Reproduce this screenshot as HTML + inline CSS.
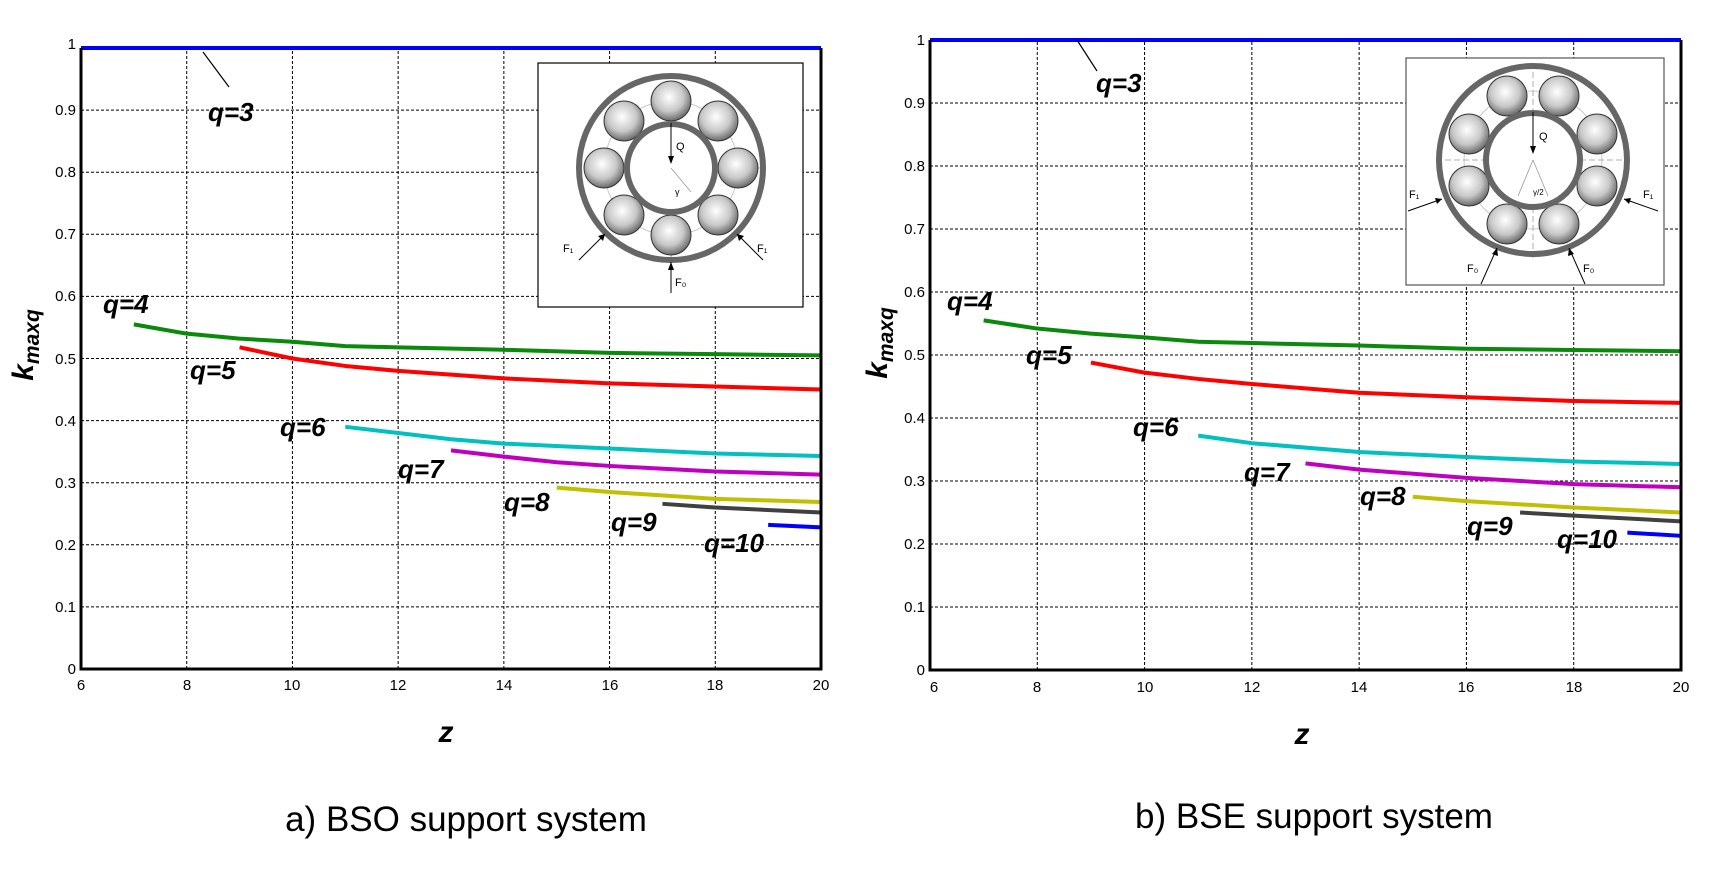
<!DOCTYPE html>
<html><head><meta charset="utf-8"><style>
html,body{margin:0;padding:0;background:#fff}
svg{display:block}
.t{font-family:"Liberation Sans",Arial,sans-serif;font-size:15px;fill:#000}
.q{font-family:"Liberation Sans",Arial,sans-serif;font-size:26px;font-weight:bold;font-style:italic;fill:#000}
.cap{font-family:"Liberation Sans",Arial,sans-serif;font-size:35px;fill:#000}
.sm{font-family:"Liberation Sans",Arial,sans-serif;font-size:11px;fill:#000}
</style></head><body>
<svg width="1720" height="875" xmlns="http://www.w3.org/2000/svg">
<defs>
<radialGradient id="ball" cx="0.45" cy="0.4" r="0.6">
<stop offset="0" stop-color="#ffffff"/><stop offset="0.6" stop-color="#c8c8c8"/><stop offset="1" stop-color="#6a6a6a"/>
</radialGradient>
</defs>

<!-- ================= LEFT PLOT ================= -->
<svg x="81" y="48" width="740" height="621" viewBox="6 -1 14 1" preserveAspectRatio="none" overflow="visible">
<g fill="none" stroke="#000" stroke-width="1" stroke-dasharray="3,2">
<path vector-effect="non-scaling-stroke" d="M8 0V-1M10 0V-1M12 0V-1M14 0V-1M16 0V-1M18 0V-1M6 -0.1H20M6 -0.2H20M6 -0.3H20M6 -0.4H20M6 -0.5H20M6 -0.6H20M6 -0.7H20M6 -0.8H20M6 -0.9H20"/>
</g>
<g fill="none" stroke-width="4" stroke-linejoin="round">
<path vector-effect="non-scaling-stroke" stroke="#0a8a0a" d="M7 -0.555L8 -0.54L9 -0.532L10 -0.527L11 -0.52L12 -0.518L14 -0.514L16 -0.509L18 -0.507L20 -0.505"/>
<path vector-effect="non-scaling-stroke" stroke="#ff0000" d="M9 -0.518L10 -0.5L11 -0.488L12 -0.48L14 -0.468L16 -0.46L18 -0.455L20 -0.45"/>
<path vector-effect="non-scaling-stroke" stroke="#00c0c0" d="M11 -0.39L12 -0.38L13 -0.37L14 -0.363L16 -0.355L18 -0.347L20 -0.343"/>
<path vector-effect="non-scaling-stroke" stroke="#c000c0" d="M13 -0.352L14 -0.342L15 -0.333L16 -0.327L18 -0.318L20 -0.313"/>
<path vector-effect="non-scaling-stroke" stroke="#c0c000" d="M15 -0.292L16 -0.285L18 -0.274L20 -0.269"/>
<path vector-effect="non-scaling-stroke" stroke="#404040" d="M17 -0.266L18 -0.26L20 -0.252"/>
<path vector-effect="non-scaling-stroke" stroke="#0000ff" d="M19 -0.232L20 -0.228"/>
</g>
</svg>
<line x1="81" y1="48" x2="821" y2="48" stroke="#0000ff" stroke-width="4"/>
<path d="M81 48V669H821V48" fill="none" stroke="#000" stroke-width="3"/>
<line x1="203" y1="52" x2="229" y2="87" stroke="#000" stroke-width="1.2"/>
<g class="t" text-anchor="end">
<text x="76" y="674">0</text><text x="76" y="612">0.1</text><text x="76" y="550">0.2</text><text x="76" y="488">0.3</text><text x="76" y="426">0.4</text><text x="76" y="364">0.5</text><text x="76" y="301">0.6</text><text x="76" y="239">0.7</text><text x="76" y="177">0.8</text><text x="76" y="115">0.9</text><text x="76" y="49">1</text>
</g>
<g class="t" text-anchor="middle">
<text x="81" y="690">6</text><text x="187" y="690">8</text><text x="292" y="690">10</text><text x="398" y="690">12</text><text x="504" y="690">14</text><text x="610" y="690">16</text><text x="715" y="690">18</text><text x="821" y="690">20</text>
</g>
<g class="q">
<text x="208" y="121">q=3</text><text x="103" y="313">q=4</text><text x="190" y="379">q=5</text><text x="280" y="436">q=6</text><text x="398" y="478">q=7</text><text x="504" y="511">q=8</text><text x="611" y="531">q=9</text><text x="704" y="552">q=10</text>
</g>
<text class="q" x="446" y="742" text-anchor="middle" style="font-size:30px">z</text>
<text class="q" transform="translate(33,345) rotate(-90)" text-anchor="middle" style="font-size:30px">k<tspan style="font-size:21px" dy="6">maxq</tspan></text>
<text class="cap" x="466" y="831" text-anchor="middle">a) BSO support system</text>

<!-- left inset -->
<rect x="538" y="63" width="265" height="244" fill="#fff" stroke="#000" stroke-width="1.2"/>
<g transform="translate(671,168)">
<circle r="67" fill="none" stroke="#bbb" stroke-width="0.8"/>
<line x1="-95" y1="0" x2="95" y2="0" stroke="#999" stroke-dasharray="6,3" stroke-width="0.8"/>
<line x1="0" y1="-95" x2="0" y2="95" stroke="#999" stroke-dasharray="6,3" stroke-width="0.8"/>
<circle r="92" fill="none" stroke="#666" stroke-width="6"/>
<circle cx="0" cy="-67" r="20" fill="url(#ball)" stroke="#333"/><circle cx="47" cy="-47" r="20" fill="url(#ball)" stroke="#333"/><circle cx="67" cy="0" r="20" fill="url(#ball)" stroke="#333"/><circle cx="47" cy="47" r="20" fill="url(#ball)" stroke="#333"/><circle cx="0" cy="67" r="20" fill="url(#ball)" stroke="#333"/><circle cx="-47" cy="47" r="20" fill="url(#ball)" stroke="#333"/><circle cx="-67" cy="0" r="20" fill="url(#ball)" stroke="#333"/><circle cx="-47" cy="-47" r="20" fill="url(#ball)" stroke="#333"/>
<circle r="44" fill="#fff" stroke="#666" stroke-width="6"/>
<line x1="0" y1="-45" x2="0" y2="-10" stroke="#000"/><path d="M-3,-12 L3,-12 L0,-4Z" fill="#000"/>
<text class="sm" x="5" y="-18">Q</text>
<line x1="0" y1="0" x2="20" y2="24" stroke="#999" stroke-width="0.8"/>
<text class="sm" x="4" y="27" style="font-size:9px">γ</text>
<line x1="0" y1="94" x2="0" y2="125" stroke="#000"/><path d="M-3,102 L3,102 L0,94Z" fill="#000"/>
<text class="sm" x="4" y="118">F₀</text>
<line x1="-66" y1="66" x2="-92" y2="92" stroke="#000"/><path d="M-66,66 L-73,68 L-68,73Z" fill="#000"/>
<text class="sm" x="-108" y="84">F₁</text>
<line x1="66" y1="66" x2="92" y2="92" stroke="#000"/><path d="M66,66 L73,68 L68,73Z" fill="#000"/>
<text class="sm" x="86" y="84">F₁</text>
</g>

<!-- ================= RIGHT PLOT ================= -->
<svg x="930" y="40" width="751" height="630" viewBox="6 -1 14 1" preserveAspectRatio="none" overflow="visible">
<g fill="none" stroke="#000" stroke-width="1" stroke-dasharray="3,2">
<path vector-effect="non-scaling-stroke" d="M8 0V-1M10 0V-1M12 0V-1M14 0V-1M16 0V-1M18 0V-1M6 -0.1H20M6 -0.2H20M6 -0.3H20M6 -0.4H20M6 -0.5H20M6 -0.6H20M6 -0.7H20M6 -0.8H20M6 -0.9H20"/>
</g>
<g fill="none" stroke-width="4" stroke-linejoin="round">
<path vector-effect="non-scaling-stroke" stroke="#0a8a0a" d="M7 -0.555L8 -0.542L9 -0.534L10 -0.528L11 -0.521L12 -0.519L14 -0.515L16 -0.51L18 -0.508L20 -0.506"/>
<path vector-effect="non-scaling-stroke" stroke="#ff0000" d="M9 -0.488L10 -0.472L11 -0.462L12 -0.454L14 -0.44L16 -0.433L18 -0.427L20 -0.424"/>
<path vector-effect="non-scaling-stroke" stroke="#00c0c0" d="M11 -0.372L12 -0.36L14 -0.346L16 -0.338L18 -0.331L20 -0.327"/>
<path vector-effect="non-scaling-stroke" stroke="#c000c0" d="M13 -0.328L14 -0.318L16 -0.305L18 -0.295L20 -0.29"/>
<path vector-effect="non-scaling-stroke" stroke="#c0c000" d="M15 -0.275L16 -0.268L18 -0.258L20 -0.25"/>
<path vector-effect="non-scaling-stroke" stroke="#404040" d="M17 -0.25L18 -0.245L20 -0.236"/>
<path vector-effect="non-scaling-stroke" stroke="#0000ff" d="M19 -0.218L20 -0.213"/>
</g>
</svg>
<line x1="930" y1="40" x2="1681" y2="40" stroke="#0000ff" stroke-width="4"/>
<path d="M930 40V670H1681V40" fill="none" stroke="#000" stroke-width="3"/>
<line x1="1077" y1="40" x2="1097" y2="71" stroke="#000" stroke-width="1.2"/>
<g class="t" text-anchor="end">
<text x="925" y="675">0</text><text x="925" y="612">0.1</text><text x="925" y="549">0.2</text><text x="925" y="486">0.3</text><text x="925" y="423">0.4</text><text x="925" y="360">0.5</text><text x="925" y="297">0.6</text><text x="925" y="234">0.7</text><text x="925" y="171">0.8</text><text x="925" y="108">0.9</text><text x="925" y="45">1</text>
</g>
<g class="t" text-anchor="middle">
<text x="934" y="692">6</text><text x="1037" y="692">8</text><text x="1145" y="692">10</text><text x="1252" y="692">12</text><text x="1359" y="692">14</text><text x="1466" y="692">16</text><text x="1574" y="692">18</text><text x="1681" y="692">20</text>
</g>
<g class="q">
<text x="1096" y="92">q=3</text><text x="947" y="310">q=4</text><text x="1026" y="364">q=5</text><text x="1133" y="436">q=6</text><text x="1244" y="481">q=7</text><text x="1360" y="505">q=8</text><text x="1467" y="535">q=9</text><text x="1557" y="548">q=10</text>
</g>
<text class="q" x="1302" y="744" text-anchor="middle" style="font-size:30px">z</text>
<text class="q" transform="translate(887,343) rotate(-90)" text-anchor="middle" style="font-size:30px">k<tspan style="font-size:21px" dy="6">maxq</tspan></text>
<text class="cap" x="1314" y="828" text-anchor="middle">b) BSE support system</text>

<!-- right inset -->
<rect x="1406" y="58" width="258" height="227" fill="#fff" stroke="#555" stroke-width="1.2"/>
<g transform="translate(1533,160)">
<circle r="69" fill="none" stroke="#bbb" stroke-width="0.8"/>
<line x1="-97" y1="0" x2="97" y2="0" stroke="#999" stroke-dasharray="6,3" stroke-width="0.8"/>
<line x1="0" y1="-97" x2="0" y2="100" stroke="#999" stroke-dasharray="6,3" stroke-width="0.8"/>
<circle r="94" fill="none" stroke="#666" stroke-width="6"/>
<circle cx="26" cy="-64" r="20" fill="url(#ball)" stroke="#333"/><circle cx="64" cy="-26" r="20" fill="url(#ball)" stroke="#333"/><circle cx="64" cy="26" r="20" fill="url(#ball)" stroke="#333"/><circle cx="26" cy="64" r="20" fill="url(#ball)" stroke="#333"/><circle cx="-26" cy="64" r="20" fill="url(#ball)" stroke="#333"/><circle cx="-64" cy="26" r="20" fill="url(#ball)" stroke="#333"/><circle cx="-64" cy="-26" r="20" fill="url(#ball)" stroke="#333"/><circle cx="-26" cy="-64" r="20" fill="url(#ball)" stroke="#333"/>
<circle r="47" fill="#fff" stroke="#666" stroke-width="6"/>
<line x1="0" y1="-48" x2="0" y2="-12" stroke="#000"/><path d="M-3,-14 L3,-14 L0,-6Z" fill="#000"/>
<text class="sm" x="6" y="-20">Q</text>
<line x1="0" y1="0" x2="-15" y2="36" stroke="#999" stroke-width="0.8"/><line x1="0" y1="0" x2="15" y2="36" stroke="#999" stroke-width="0.8"/>
<text class="sm" x="0" y="35" style="font-size:8px">γ/2</text>
<line x1="-36" y1="88" x2="-52" y2="124" stroke="#000"/><path d="M-36,88 L-41,94 L-35,96Z" fill="#000"/>
<text class="sm" x="-66" y="112">F₀</text>
<line x1="36" y1="88" x2="52" y2="124" stroke="#000"/><path d="M36,88 L41,94 L35,96Z" fill="#000"/>
<text class="sm" x="50" y="112">F₀</text>
<line x1="-91" y1="39" x2="-125" y2="51" stroke="#000"/><path d="M-91,39 L-98,38 L-96,44Z" fill="#000"/>
<text class="sm" x="-124" y="38">F₁</text>
<line x1="91" y1="39" x2="125" y2="51" stroke="#000"/><path d="M91,39 L98,38 L96,44Z" fill="#000"/>
<text class="sm" x="110" y="38">F₁</text>
</g>
</svg>
</body></html>
